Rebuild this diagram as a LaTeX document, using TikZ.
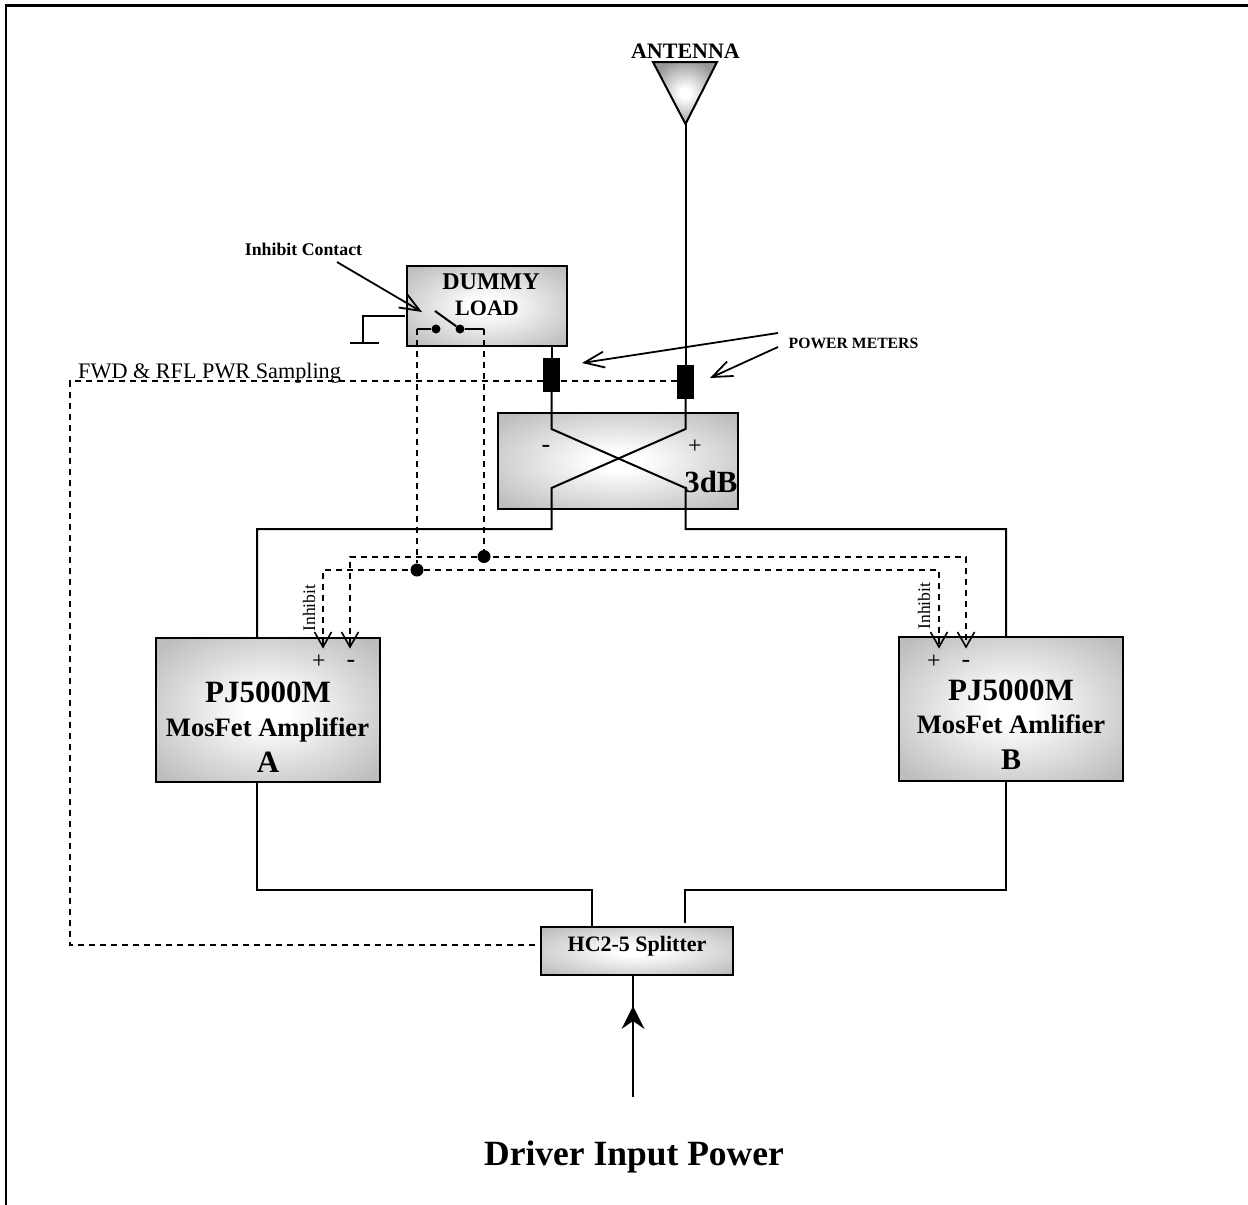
\documentclass[tikz,border=0pt]{standalone}
\usepackage{fontspec}
\setmainfont{Liberation Serif}
\usetikzlibrary{arrows.meta,calc}
\pgfdeclareradialshading{boxshade}{\pgfpoint{0bp}{0bp}}{color(0bp)=(white);color(5bp)=(white);color(33bp)=(black!26);color(50bp)=(black!26)}
\pgfdeclareradialshading{antshade}{\pgfpoint{0bp}{0bp}}{color(0bp)=(white);color(4bp)=(white);color(27bp)=(black!40);color(50bp)=(black!40)}
\newcommand{\fs}[1]{\fontsize{#1}{#1}\selectfont}
\tikzset{
  x=1pt,y=-1pt,
  wire/.style={line width=2pt,black},
  dash line/.style={line width=1.5pt,black,dash pattern=on 6pt off 5pt},
  shadebox/.style={draw=black,line width=2pt,shading=boxshade,minimum width=0pt,minimum height=0pt,inner sep=0pt,rectangle},
  meter/.style={draw=black,fill=black,line width=0.5pt,rectangle,inner sep=0pt,minimum width=16pt,minimum height=33pt},
  junction/.style={circle,fill=black,inner sep=0pt,minimum size=13pt},
  contact/.style={circle,fill=black,inner sep=0pt,minimum size=9pt},
  openarrow/.style={line width=1.8pt,-{Straight Barb[length=20pt,width=16pt,line width=1.8pt]}},
  lab/.style={inner sep=0pt,text=black},
  bf/.style={lab,font=\bfseries}
}
\begin{document}
\begin{tikzpicture}
\useasboundingbox (0,0) rectangle (1248,1205);
% frame
\draw[line width=2.5pt] (6,1205) -- (6,5.5) -- (1248,5.5);
% boxes
\node[shadebox,minimum width=160pt,minimum height=80pt] (dummy) at (487,306) {};
\node[shadebox,minimum width=240pt,minimum height=96pt] (hyb) at (618,461) {};
\node[shadebox,minimum width=224pt,minimum height=144pt] (ampA) at (268,710) {};
\node[shadebox,minimum width=224pt,minimum height=144pt] (ampB) at (1011,709) {};
\node[shadebox,minimum width=192pt,minimum height=48pt] (split) at (637,951) {};
\node[meter] (m1) at (551.5,375) {};
\node[meter] (m2) at (685.5,381.5) {};
% antenna
\shade[shading=antshade,draw=black,line width=2pt] (653,62) -- (717,62) -- (685.5,124) -- cycle;
\coordinate (antTip) at (685.5,124);
% helper coordinates
\coordinate (xTL) at (551.5,429);
\coordinate (xTR) at (685.5,429);
\coordinate (xBL) at (551.5,488);
\coordinate (xBR) at (685.5,488);
\coordinate (hybL) at (551.5,529);
\coordinate (hybR) at (685.5,529);
\coordinate (aTop) at (257,637.9);
\coordinate (bTop) at (1006,636.9);
\coordinate (aBot) at (257,782);
\coordinate (bBot) at (1006,781);
\coordinate (sL) at (592,927);
\coordinate (sR) at (685,923);
% RF wiring
\draw[wire] (antTip) -- (m2.north);
\draw[wire] (dummy.south -| m1) -- (m1.north);
\draw[wire] (m1.south) -- (xTL) -- (xBR) -- (hybR) -- (1006,529) -- (bTop);
\draw[wire] (m2.south) -- (xTR) -- (xBL) -- (hybL) -- (257,529) -- (aTop);
\draw[wire] (aBot) -- (257,890) -- (592,890) -- (sL);
\draw[wire] (bBot) -- (1006,890) -- (685,890) -- (sR);
% ground
\coordinate (gA) at (405,316);
\coordinate (gL) at (350,343);
\coordinate (gR) at (379,343);
\draw[wire] (gA) -- (363,316) -- (363,343);
\draw[wire] (gL) -- (gR);
% switch
\node[contact] (c1) at (436,329) {};
\node[contact] (c2) at (460,329) {};
\coordinate (blade) at (435,311);
\coordinate (s1) at (417,329);
\coordinate (s2) at (484,329);
\draw[wire,line width=1.6pt] (c1) -- (s1);
\draw[wire,line width=1.6pt] (c2) -- (s2);
\draw[wire] (blade) -- (c2);
% junctions
\node[junction] (j1) at (417,570) {};
\node[junction] (j2) at (484,556.5) {};
% dashed control
\draw[dash line] (s1) -- (j1);
\draw[dash line] (s2) -- (j2);
\coordinate (inAp) at (323,645);
\coordinate (inAm) at (350,645);
\coordinate (inBp) at (939,645);
\coordinate (inBm) at (966,645);
\draw[dash line] (inAp) -- (323,570) -- (939,570) -- (inBp);
\draw[dash line] (inAm) -- (350,557) -- (966,557) -- (inBm);
\foreach \c in {inAp,inAm,inBp,inBm}{
  \draw[line width=1.6pt] ($(\c)+(-8.5,-13)$) -- ($(\c)+(0,2)$) -- ($(\c)+(8.5,-13)$);
}
% sampling
\draw[dash line] (m2.west |- 0,381) -- (m1.east |- 0,381);
\draw[dash line] (m1.west |- 0,381) -- (70,381) -- (70,945) -- (split.west |- 0,945);
% pointers
\coordinate (pc0) at (337,262);
\coordinate (pc1) at (422,312);
\draw[openarrow] (pc0) -- (pc1);
\coordinate (pm0) at (778,333);
\coordinate (pm1) at (582,363);
\coordinate (pm2) at (778,347);
\coordinate (pm3) at (710,378);
\draw[openarrow] (pm0) -- (pm1);
\draw[openarrow] (pm2) -- (pm3);
% input
\coordinate (drv) at (633,1097);
\draw[wire,line width=2.5pt] (drv) -- (split.south -| drv);
\fill (633,1006) -- (644.5,1029) -- (633,1021) -- (621.5,1029) -- cycle;
% texts
\node[bf,font=\bfseries\fs{22}] (tAnt) at (685.5,51) {ANTENNA};
\node[bf,font=\bfseries\fs{17.8}] (tInh) at (303.5,249) {Inhibit Contact};
\node[bf,font=\bfseries\fs{24}] (tD1) at (491,282) {DUMMY};
\node[bf,font=\bfseries\fs{22}] (tD2) at (487,308) {LOAD};
\node[bf,font=\bfseries\fs{15.7}] (tPM) at (853.5,343) {POWER METERS};
\node[lab,font=\fs{22.2},anchor=base west] (tFwd) at (78,378) {FWD \& RFL PWR Sampling};
\node[lab,font=\fs{26}] (tm) at (546,449) {-};
\node[lab,font=\fs{24}] (tp) at (695,447) {+};
\node[bf,font=\bfseries\fs{30.8}] (t3) at (711,482) {3dB};
\node[lab,font=\fs{17.6},rotate=90] (tiA) at (309,608) {Inhibit};
\node[lab,font=\fs{17.6},rotate=90] (tiB) at (924,606) {Inhibit};
\node[lab,font=\fs{24}] (pA) at (319,662) {+};
\node[lab,font=\fs{26}] (mA) at (351,664) {-};
\node[lab,font=\fs{24}] (pB) at (934,662) {+};
\node[lab,font=\fs{26}] (mB) at (966,664) {-};
\node[bf,font=\bfseries\fs{31}] (a1) at (268,692) {PJ5000M};
\node[bf,font=\bfseries\fs{26.6}] (a2) at (267.5,730) {MosFet Amplifier};
\node[bf,font=\bfseries\fs{31}] (a3) at (268,762) {A};
\node[bf,font=\bfseries\fs{31}] (b1) at (1011,690) {PJ5000M};
\node[bf,font=\bfseries\fs{26.6}] (b2) at (1011,724) {MosFet Amlifier};
\node[bf,font=\bfseries\fs{30}] (b3) at (1011,760) {B};
\node[bf,font=\bfseries\fs{22}] (tS) at (637,946) {HC2-5 Splitter};
\node[bf,font=\bfseries\fs{35.5}] (tDrv) at (634,1156.5) {Driver Input Power};
\end{tikzpicture}
\end{document}
